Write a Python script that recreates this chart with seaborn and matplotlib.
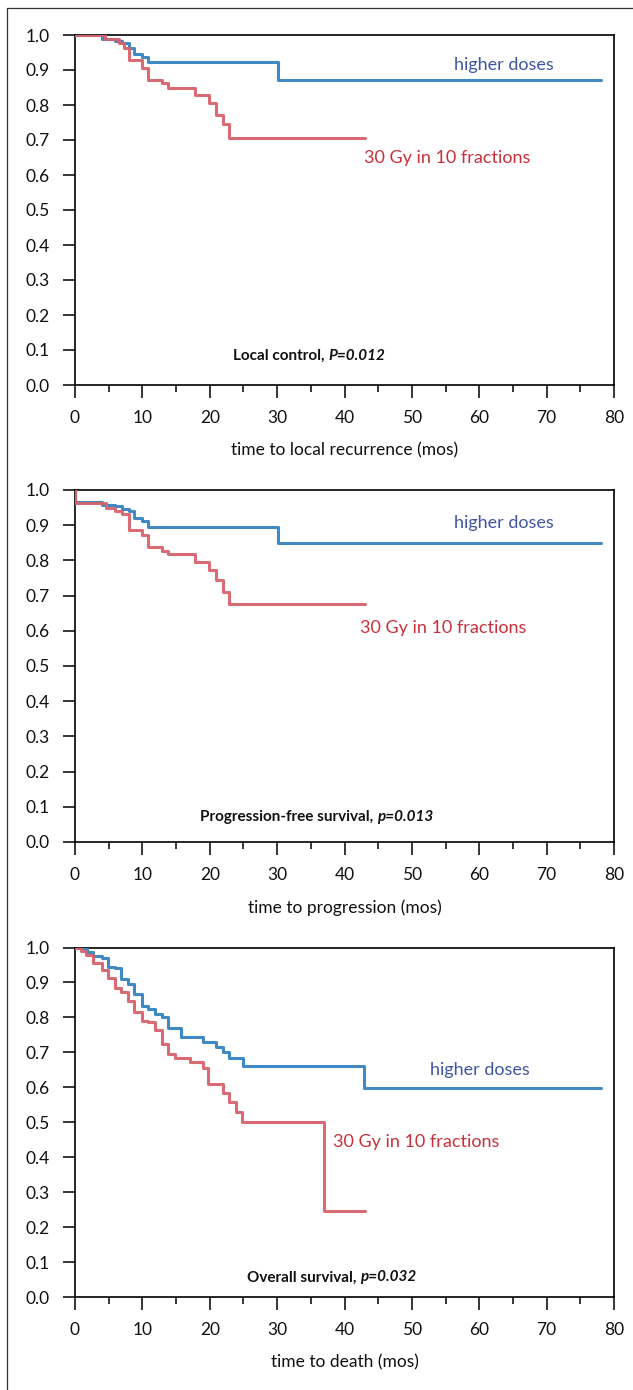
import numpy as np
import pandas as pd
import matplotlib
matplotlib.use("Agg")
import matplotlib.pyplot as plt
import seaborn as sns
from matplotlib.lines import Line2D
from matplotlib.ticker import MultipleLocator

sns.set_style("ticks")
plt.rcParams["font.family"] = ["Lato", "DejaVu Sans"]

# --- data (time in months, survival fraction) ---
lc_hi_t = [0, 4, 6, 7, 8, 8.75, 10, 10.9, 30.1, 78]
lc_hi_s = [1.0, 0.99, 0.984, 0.978, 0.962, 0.945, 0.938, 0.923, 0.871, 0.871]
lc_lo_t = [0, 4.5, 6.5, 7.3, 8, 10, 10.9, 12.9, 13.75, 17.8, 19.9, 21, 21.9, 22.9, 43]
lc_lo_s = [1.0, 0.99, 0.978, 0.962, 0.929, 0.905, 0.871, 0.864, 0.850, 0.829, 0.805, 0.771, 0.745, 0.705, 0.705]

pfs_hi_t = [0, 0, 4, 6, 7, 8, 8.75, 10, 10.9, 30.1, 78]
pfs_hi_s = [1.0, 0.967, 0.958, 0.954, 0.946, 0.94, 0.92, 0.913, 0.896, 0.85, 0.85]
pfs_lo_t = [0, 0, 4.6, 6, 7, 8, 10, 10.9, 12.9, 13.8, 17.8, 19.9, 21, 22, 22.9, 43]
pfs_lo_s = [1.0, 0.962, 0.949, 0.939, 0.932, 0.887, 0.873, 0.839, 0.827, 0.818, 0.796, 0.772, 0.743, 0.71, 0.675, 0.675]

os_hi_t = [0, 1.8, 2.7, 3.95, 4.85, 5.9, 6.8, 7.9, 8.75, 10, 10.9, 11.9, 12.9, 13.85, 15.8,
           19.0, 21, 22, 22.9, 24.9, 42.9, 78]
os_hi_s = [1.0, 0.988, 0.976, 0.969, 0.945, 0.94, 0.909, 0.895, 0.867, 0.833, 0.824, 0.81, 0.802,
           0.771, 0.743, 0.73, 0.716, 0.70, 0.683, 0.661, 0.598, 0.598]
os_lo_t = [0, 0.85, 1.7, 2.7, 3.95, 4.85, 5.9, 6.8, 7.9, 8.75, 10, 10.9, 11.9, 12.9, 13.85, 14.8,
           17, 19, 19.8, 22, 22.85, 23.9, 24.8, 37, 43]
os_lo_s = [1.0, 0.991, 0.979, 0.955, 0.937, 0.912, 0.883, 0.872, 0.848, 0.816, 0.79, 0.786, 0.764,
           0.724, 0.695, 0.683, 0.671, 0.654, 0.609, 0.585, 0.558, 0.53, 0.50, 0.245, 0.245]

groups = ["higher doses", "30 Gy in 10 fractions"]
xlabels = ["time to local recurrence (mos)", "time to progression (mos)", "time to death (mos)"]
titles = [("Local control, ", "P=0.012"),
          ("Progression-free survival, ", "p=0.013"),
          ("Overall survival, ", "p=0.032")]
yticks = [0.0, 0.1, 0.2, 0.3, 0.4, 0.5, 0.6, 0.7, 0.8, 0.9, 1.0]
xticks = [0, 10, 20, 30, 40, 50, 60, 70, 80]

curves = [
    (lc_hi_t, lc_hi_s, lc_lo_t, lc_lo_s),
    (pfs_hi_t, pfs_hi_s, pfs_lo_t, pfs_lo_s),
    (os_hi_t, os_hi_s, os_lo_t, os_lo_s),
]

# label placement (data coords) per panel
hi_lab = [(63.6, 0.914), (63.6, 0.907), (60.1, 0.649)]
lo_lab = [(55.3, 0.649), (54.6, 0.607), (50.6, 0.443)]
note_pos = [(23.4, 0.083), (18.5, 0.07), (25.5, 0.056)]

line_cols = {"higher doses": "#3683bf", "30 Gy in 10 fractions": "#d6636c"}
text_hi = "#3f56a3"
text_lo = "#c9303a"

fig = plt.figure(figsize=(6.33, 13.9), dpi=100)
rects = [
    [75 / 633, 1 - 385 / 1390, 539 / 633, 350 / 1390],
    [75 / 633, 1 - 842 / 1390, 539 / 633, 352 / 1390],
    [75 / 633, 1 - 1297 / 1390, 539 / 633, 349.5 / 1390],
]

for i, rect in enumerate(rects):
    ax = fig.add_axes(rect)
    hi_t, hi_s, lo_t, lo_s = curves[i]
    df = pd.concat([
        pd.DataFrame({"time": hi_t, "surv": hi_s, "group": groups[0]}),
        pd.DataFrame({"time": lo_t, "surv": lo_s, "group": groups[1]}),
    ], ignore_index=True)
    sns.lineplot(data=df, x="time", y="surv", hue="group", palette=line_cols,
                 estimator=None, sort=False, drawstyle="steps-post",
                 linewidth=2.2, alpha=0.95, legend=False, ax=ax, zorder=3)

    ax.set_xlim(0, 80)
    ax.set_ylim(0, 1.0)
    ax.set_xticks(xticks)
    ax.xaxis.set_minor_locator(MultipleLocator(5))
    ax.set_yticks(yticks)
    ax.set_yticklabels([f"{v:.1f}" for v in yticks])
    ax.tick_params(axis="both", which="major", direction="out", length=9, width=1.1,
                   labelsize=12.5, color="black", labelcolor="#111111")
    ax.tick_params(axis="x", which="minor", direction="out", length=5, width=1.1, color="black")
    ax.tick_params(axis="x", which="major", pad=9)
    ax.tick_params(axis="y", which="major", pad=9)
    for sp in ax.spines.values():
        sp.set_visible(True)
        sp.set_linewidth(1.2)
        sp.set_color("black")
    ax.set_xlabel(xlabels[i], fontsize=12.5, labelpad=12, color="#111111")
    ax.set_ylabel("")

    ax.text(*hi_lab[i], groups[0], color=text_hi, fontsize=13, ha="center", va="center")
    ax.text(*lo_lab[i], groups[1], color=text_lo, fontsize=13, ha="center", va="center")

    t1 = ax.text(*note_pos[i], titles[i][0], fontsize=11, fontweight="bold",
                 ha="left", va="center", color="#111111")
    ax.annotate(titles[i][1], xy=(1, 0.5), xycoords=t1, ha="left", va="center",
                fontsize=11, fontweight="bold", fontstyle="italic", color="#111111")

# outer frame (left and top edges, as in the source image)
fig.add_artist(Line2D([7.5 / 633, 7.5 / 633], [0, 1 - 7.5 / 1390], color="#333333", linewidth=0.9))
fig.add_artist(Line2D([7.5 / 633, 1], [1 - 7.5 / 1390, 1 - 7.5 / 1390], color="#333333", linewidth=0.9))

plt.savefig("out.png", dpi=100)
plt.close()
